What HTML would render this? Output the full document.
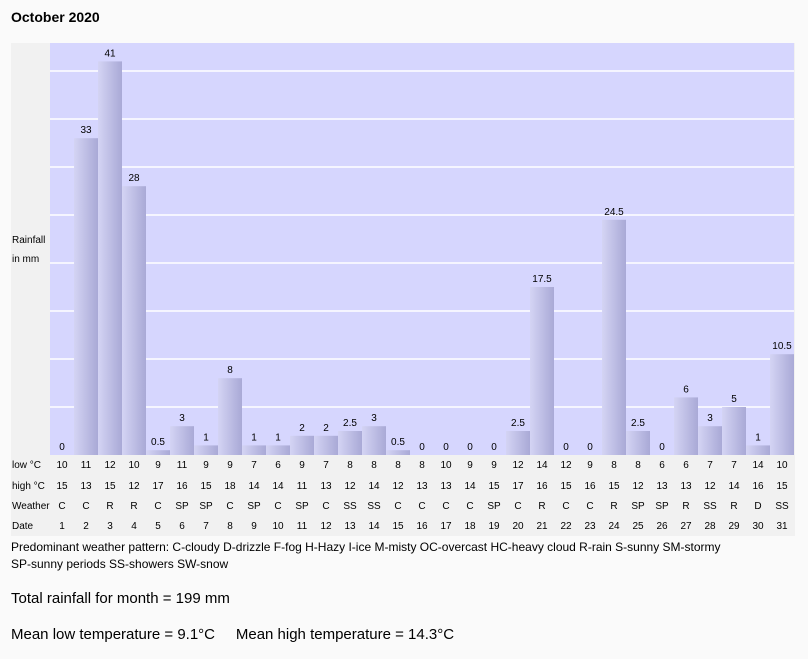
<!DOCTYPE html>
<html><head><meta charset="utf-8"><style>
body{margin:0;width:808px;height:659px;background:#fafafa;font-family:"Liberation Sans",Arial,sans-serif;color:#000;position:relative;overflow:hidden}
#title{position:absolute;left:11px;top:9px;font-size:14px;font-weight:bold}
#chart{position:absolute;left:0;top:0}
.foot{position:absolute;left:11px}
</style></head><body>
<div id="title">October 2020</div>
<svg id="chart" width="808" height="540">
<defs><linearGradient id="bg" x1="0" x2="1"><stop offset="0" stop-color="#d4d4f4"/><stop offset="1" stop-color="#a9a9d6"/></linearGradient></defs>
<rect x="11" y="43" width="784" height="493" fill="#f1f1f1"/>
<rect x="50" y="43" width="744" height="412" fill="#d6d6fe"/>
<g id="grid"></g><g id="bars"></g><g id="rows"></g>
<text x="12" y="243" font-size="10">Rainfall</text>
<text x="12" y="262" font-size="10">in mm</text>
</svg>
<div class="foot" style="top:539px;font-size:12px;line-height:17px">Predominant weather pattern: C-cloudy D-drizzle F-fog H-Hazy I-ice M-misty OC-overcast HC-heavy cloud R-rain S-sunny SM-stormy<br>SP-sunny periods SS-showers SW-snow</div>
<div class="foot" style="top:590px;font-size:15px">Total rainfall for month = 199 mm</div>
<div class="foot" style="top:626px;font-size:15px">Mean low temperature = 9.1°C &nbsp;&nbsp;&nbsp; Mean high temperature = 14.3°C</div>
<script>
const rain=[0,33,41,28,0.5,3,1,8,1,1,2,2,2.5,3,0.5,0,0,0,0,2.5,17.5,0,0,24.5,2.5,0,6,3,5,1,10.5];
const lows=[10,11,12,10,9,11,9,9,7,6,9,7,8,8,8,8,10,9,9,12,14,12,9,8,8,6,6,7,7,14,10];
const highs=[15,13,15,12,17,16,15,18,14,14,11,13,12,14,12,13,13,14,15,17,16,15,16,15,12,13,13,12,14,16,15];
const weather=["C","C","R","R","C","SP","SP","C","SP","C","SP","C","SS","SS","C","C","C","C","SP","C","R","C","C","R","SP","SP","R","SS","R","D","SS"];
const gridTicks=[5,10,15,20,25,30,35,40];
const NS="http://www.w3.org/2000/svg";
const x0=50,cw=24,base=455,k=9.6;
const xs=i=>x0+i*cw, ys=v=>base-v*k;
function mk(t,a,p){const e=document.createElementNS(NS,t);for(const n in a)e.setAttribute(n,a[n]);p.appendChild(e);return e;}
const G=document.getElementById('grid'),B=document.getElementById('bars'),R=document.getElementById('rows');
gridTicks.forEach(v=>{const l=mk('line',{x1:50,x2:794,y1:ys(v),y2:ys(v),stroke:'#fff','stroke-width':1.5},G);

});
rain.forEach((v,i)=>{
 const r=mk('rect',{x:xs(i),y:ys(v),width:cw,height:v*k,fill:'url(#bg)'},B);
 
 
 const t=mk('text',{x:xs(i)+cw/2,y:ys(v)-5,'font-size':10,'text-anchor':'middle'},B);t.textContent=v;
 
 
});
const rowsDef=[["low °C",lows,468],["high °C",highs,489],["Weather",weather,509],["Date",rain.map((_,i)=>i+1),529]];
rowsDef.forEach(([lab,arr,y])=>{
 const t=mk('text',{x:12,y:y,'font-size':10},R);t.textContent=lab;
 
 
 arr.forEach((v,i)=>{const c=mk('text',{x:xs(i)+cw/2,y:y,'font-size':10,'text-anchor':'middle'},R);c.textContent=v;
 
 });
});
</script>
</body></html>
